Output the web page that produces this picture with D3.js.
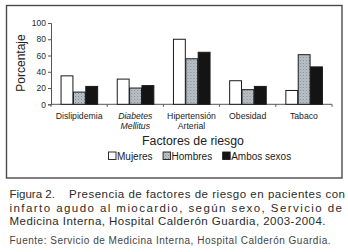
<!DOCTYPE html>
<html>
<head>
<meta charset="utf-8">
<script src="https://cdn.jsdelivr.net/npm/d3@7"></script>
<style>
  html, body { margin: 0; padding: 0; background: #fff; }
  svg { display: block; font-family: "Liberation Sans", Arial, sans-serif; }
</style>
</head>
<body>
<div id="chart"></div>
<script>
const categories = ["Dislipidemia", "Diabetes Mellitus", "Hipertensión Arterial", "Obesidad", "Tabaco"];
const series = ["Mujeres", "Hombres", "Ambos sexos"];
const mujeres = [35, 31, 80, 29, 17];
const hombres = [15, 20, 56, 18, 61];
const ambos = [22, 23, 64, 22, 46];
const yTicks = [0, 20, 40, 60, 80, 100];
const captionLines = [
    "Figura 2.  Presencia de factores de riesgo en pacientes con",
    "infarto agudo al miocardio, según sexo, Servicio de",
    "Medicina Interna, Hospital Calderón Guardia, 2003-2004."
];
const source = "Fuente: Servicio de Medicina Interna, Hospital Calderón Guardia.";

const values = [mujeres, hombres, ambos];
const rows = categories.map((c, i) => ({ cat: c, vals: series.map((s, j) => ({ key: s, value: values[j][i] })) }));

const W = 348, H = 252;
const svg = d3.select("#chart").append("svg").attr("width", W).attr("height", H);

const defs = svg.append("defs");
const pat = defs.append("pattern")
    .attr("id", "hatch").attr("patternUnits", "userSpaceOnUse")
    .attr("width", 3).attr("height", 3);
pat.append("rect").attr("width", 3).attr("height", 3).attr("fill", "#bcc3c8");
pat.append("rect").attr("x", 0).attr("y", 0).attr("width", 1).attr("height", 1).attr("fill", "#7f888e");
pat.append("rect").attr("x", 1.5).attr("y", 1.5).attr("width", 1).attr("height", 1).attr("fill", "#959da2");

const fills = { "Mujeres": "#fff", "Hombres": "url(#hatch)", "Ambos sexos": "#141414" };

// frame
svg.append("rect")
    .attr("x", 6.5).attr("y", 5.5).attr("width", 335.5).attr("height", 172.5)
    .attr("fill", "none").attr("stroke", "#4a4a4a").attr("stroke-width", 1.4);

const x0 = d3.scaleBand().domain(categories).range([51, 332]).padding(0);
const pad = x0.bandwidth() * 0.17;
const x1 = d3.scaleBand().domain(series).range([pad, x0.bandwidth() - pad]).padding(0);
const y = d3.scaleLinear().domain([0, 100]).range([104.3, 23]);

// y axis
const yAxis = svg.append("g")
    .attr("transform", "translate(51,0)")
    .call(d3.axisLeft(y).tickValues(yTicks).tickSize(3).tickPadding(2));
yAxis.select(".domain").attr("stroke", "#555");
yAxis.selectAll(".tick line").attr("stroke", "#555");
yAxis.selectAll("text").attr("font-size", "8.5px").attr("fill", "#2a2a2a")
    .style("font-family", "Liberation Sans, Arial, sans-serif");

// x axis with ticks on band boundaries
svg.append("line")
    .attr("x1", 51).attr("x2", 332).attr("y1", y(0)).attr("y2", y(0))
    .attr("stroke", "#555");
svg.selectAll(".xtick")
    .data(categories.concat(["end"]))
    .enter().append("line")
    .attr("class", "xtick")
    .attr("x1", (d, i) => 51 + i * x0.step())
    .attr("x2", (d, i) => 51 + i * x0.step())
    .attr("y1", y(0)).attr("y2", y(0) + 2.5)
    .attr("stroke", "#555");

// bars
const groups = svg.selectAll(".grp")
    .data(rows)
    .enter().append("g")
    .attr("class", "grp")
    .attr("transform", d => `translate(${x0(d.cat)},0)`);

groups.selectAll("rect")
    .data(d => d.vals)
    .enter().append("rect")
    .attr("x", d => x1(d.key) + 0.5)
    .attr("y", d => y(d.value))
    .attr("width", x1.bandwidth() - 0.5)
    .attr("height", d => y(0) - y(d.value))
    .attr("fill", d => fills[d.key])
    .attr("stroke", "#1a1a1a")
    .attr("stroke-width", 1);

// category labels
svg.selectAll(".catlab")
    .data(categories)
    .enter().append("text")
    .attr("class", "catlab")
    .attr("x", d => x0(d) + x0.bandwidth() / 2)
    .attr("y", 118.5)
    .attr("text-anchor", "middle")
    .attr("font-size", "8.7px")
    .attr("fill", "#222")
    .attr("font-style", d => d.startsWith("Diabetes") ? "italic" : "normal")
    .each(function (d) {
        const parts = d.split(" ");
        const t = d3.select(this);
        parts.forEach((p, k) => {
            t.append("tspan")
                .attr("x", x0(d) + x0.bandwidth() / 2)
                .attr("dy", k === 0 ? 0 : 10)
                .text(p);
        });
    });

// axis titles
svg.append("text")
    .attr("transform", "translate(25,63) rotate(-90)")
    .attr("text-anchor", "middle")
    .attr("font-size", "12px")
    .attr("fill", "#222")
    .text("Porcentaje");

svg.append("text")
    .attr("x", 193).attr("y", 144.5)
    .attr("text-anchor", "middle")
    .attr("font-size", "12.3px")
    .attr("fill", "#222")
    .text("Factores de riesgo");

// legend
const legend = svg.append("g").attr("transform", "translate(108,152)");
let lx = 0;
series.forEach(s => {
    legend.append("rect")
        .attr("x", lx + 0.5).attr("y", 0).attr("width", 7.5).attr("height", 7.5)
        .attr("fill", fills[s]).attr("stroke", "#1a1a1a").attr("stroke-width", 0.9);
    const t = legend.append("text")
        .attr("x", lx + 9).attr("y", 7.6)
        .attr("font-size", "10px")
        .attr("fill", "#1a1a1a")
        .text(s);
    lx += 9 + t.node().getComputedTextLength() + 10;
});

// caption (justified lines)
const lineEnds = [345, 342, 325.5];
const lineY = [197.5, 211.5, 225.2];
captionLines.forEach((line, i) => {
    const parts = line.split("  ");
    let startX = 9.5;
    if (parts.length > 1) {
        svg.append("text")
            .attr("x", startX).attr("y", lineY[i])
            .attr("font-size", "11.5px").attr("fill", "#2b2b2b")
            .text(parts[0]);
        startX = 69;
    }
    svg.append("text")
        .attr("x", startX).attr("y", lineY[i])
        .attr("font-size", "11.5px").attr("fill", "#2b2b2b")
        .attr("textLength", lineEnds[i] - startX)
        .attr("lengthAdjust", "spacing")
        .text(parts[parts.length - 1]);
});

svg.append("text")
    .attr("x", 9.5).attr("y", 244)
    .attr("font-size", "10px")
    .attr("fill", "#444")
    .attr("textLength", 321)
    .attr("lengthAdjust", "spacing")
    .text(source);
</script>
</body>
</html>
